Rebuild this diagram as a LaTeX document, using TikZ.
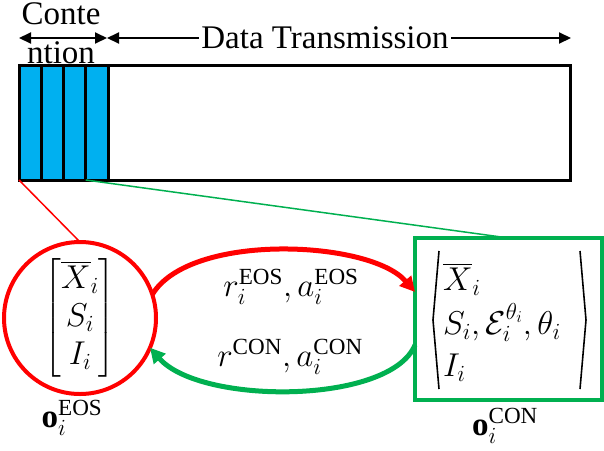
\documentclass[tikz,border=0pt]{standalone}
\usepackage{fix-cm}
\usepackage{amsmath}
\usepackage{fontspec}
\setmainfont{Liberation Serif}
\newfontfamily\timesfont{Liberation Serif}
\usetikzlibrary{arrows.meta}
\definecolor{cellblue}{HTML}{00B0F0}
\definecolor{myred}{HTML}{FF0000}
\definecolor{mygreen}{HTML}{00B050}
\newcommand{\up}[1]{\text{\timesfont #1}}
\tikzset{
  cellbox/.style={draw, fill=cellblue, line width=3pt, minimum width=22.25pt, minimum height=115pt, anchor=north west},
  barbox/.style={draw, line width=3pt, minimum width=551pt, minimum height=115pt, anchor=north west},
  dimline/.style={line width=2pt, {Triangle[length=12pt,width=11pt]}-{Triangle[length=12pt,width=11pt]}},
  bigtext/.style={font=\timesfont\fontsize{33}{36}\selectfont},
  mathtext/.style={font=\fontsize{33}{40}\selectfont},
  bigarc/.style={line width=5pt, -{Triangle[length=15pt,width=15pt]}},
  anglebr/.style={line width=1.6pt, line join=miter},
}
\begin{document}
\begin{tikzpicture}[x=1pt,y=-1pt, every node/.style={inner sep=0pt, outer sep=0pt}]
\useasboundingbox (0,0) rectangle (604,450);
% frame
\foreach \k in {0,1,2,3} \node[cellbox] (c\k) at ({19+\k*22.25},65) {};
\node[barbox] (bar) at (19,65) {};
% dimension arrows
\coordinate (dl) at (19,38);
\coordinate (dm) at (107,38);
\coordinate (dr) at (571,38);
\draw[dimline] (dl) -- (dm);
\draw[dimline] (dm) -- (dr);
\node[bigtext, fill=white, inner xsep=2pt, inner ysep=1pt] (dt) at (325,38) {Data Transmission};
\node[bigtext, anchor=base] (conte) at (61,24) {Conte};
\node[bigtext, anchor=base] (ntion) at (61,63) {ntion};
% observation nodes
\node[circle, draw=myred, line width=4pt, minimum size=152pt, mathtext] (eos) at (80,318)
  {$\renewcommand{\arraystretch}{0.95}\begin{bmatrix}\overline{X}_i\\ S_i\\ I_i\end{bmatrix}$};
\node[draw=mygreen, line width=4pt, minimum width=187pt, minimum height=162pt] (con) at (508.5,319) {};
\node[mathtext, anchor=west] (conv) at (443,325)
  {$\renewcommand{\arraystretch}{1.05}\begin{array}{@{}l@{}}\overline{X}_i\\ S_i,\mathcal{E}_i^{\theta_i},\theta_i\\ I_i\end{array}$};
\draw[anglebr] (439,251) -- (433,320) -- (439,389);
\draw[anglebr] (580,251) -- (586,320) -- (580,389);
% zoom lines
\draw[myred, line width=1.5pt] (bar.south west) -- (eos.north);
\draw[mygreen, line width=1.5pt] (c3.south west) -- (con.north);
% curved arrows
\draw[bigarc, myred] (eos.18) .. controls (190,232) and (370,240) .. ([yshift=27pt]con.west);
\draw[bigarc, mygreen] ([yshift=-26pt]con.west) .. controls (390,405) and (200,405) .. (eos.-23);
\node[mathtext] (l1) at (291,287) {$r_i^{\up{EOS}}, a_i^{\up{EOS}}$};
\node[mathtext] (l2) at (290,357) {$r^{\up{CON}}, a_i^{\up{CON}}$};
\node[mathtext] (oe) at (72,418) {$\mathbf{o}_i^{\up{EOS}}$};
\node[mathtext] (oc) at (505,426) {$\mathbf{o}_i^{\up{CON}}$};
\end{tikzpicture}
\end{document}
